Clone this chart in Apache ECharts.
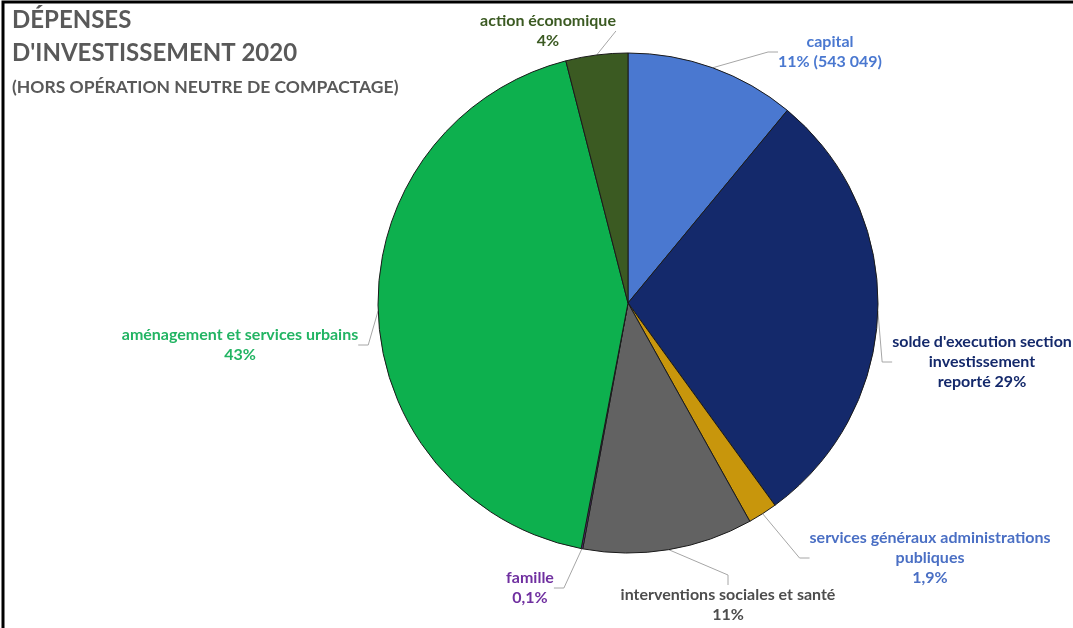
<!DOCTYPE html>
<html>
<head>
<meta charset="utf-8">
<script src="https://cdn.jsdelivr.net/npm/echarts@6/dist/echarts.min.js"></script>
<style>
  html, body { margin: 0; padding: 0; background: #fff; }
  #chart { width: 1073px; height: 628px; }
</style>
</head>
<body>
<div id="chart"></div>
<script>
// data, clockwise from 12 o'clock
const categories = [
    'capital',
    "solde d'execution section\ninvestissement\nreporté",
    'services généraux administrations\npubliques',
    'interventions sociales et santé',
    'famille',
    'aménagement et services urbains',
    'action économique',
];
const values = [11, 29, 1.9, 11, 0.1, 43, 4];
const valueLabels = ['11% (543 049)', '29%', '1,9%', '11%', '0,1%', '43%', '4%'];

const sliceColors = ['#4a78d0', '#14296b', '#c8960c', '#626262', '#7030a0', '#0db04e', '#3b5a22'];
const textColors = ['#4a78d0', '#14296b', '#4a6fc4', '#4d4d4d', '#7030a0', '#22b463', '#3b5a22'];

// where each label block sits (centre of the text)
const labelPos = [
    [830, 52], [982, 362], [930, 558], [728, 605], [530, 588], [240, 345], [548, 31],
];

const chart = echarts.init(document.getElementById('chart'));

chart.setOption({
    animation: false,
    textStyle: { fontFamily: 'Lato' },
    graphic: [
        {
            type: 'rect',
            shape: { x: 3, y: 2, width: 1075, height: 640 },
            style: { fill: 'none', stroke: '#000', lineWidth: 3 },
        },
        {
            type: 'text', left: 12, top: 8,
            style: { text: 'DÉPENSES', fontSize: 24, fontWeight: 'bold', fill: '#595959', fontFamily: 'Lato' },
        },
        {
            type: 'text', left: 12, top: 41,
            style: { text: "D'INVESTISSEMENT 2020", fontSize: 24, fontWeight: 'bold', fill: '#595959', fontFamily: 'Lato' },
        },
        {
            type: 'text', left: 12, top: 78,
            style: { text: '(HORS OPÉRATION NEUTRE DE COMPACTAGE)', fontSize: 17.5, fontWeight: 'bold', fill: '#595959', fontFamily: 'Lato' },
        },
    ],
    series: [
        {
            type: 'pie',
            center: [628, 303],
            radius: 250,
            startAngle: 90,
            clockwise: true,
            avoidLabelOverlap: false,
            itemStyle: { borderColor: '#1a1a1a', borderWidth: 1 },
            label: {
                show: true,
                fontSize: 16,
                fontWeight: 'bold',
                lineHeight: 20,
                align: 'center',
                fontFamily: 'Lato',
            },
            labelLine: {
                show: true,
                length: 12,
                length2: 10,
                lineStyle: { color: '#a6a6a6', width: 1 },
            },
            labelLayout: function (params) {
                const p = labelPos[params.dataIndex];
                return { x: p[0], y: p[1], align: 'center', verticalAlign: 'middle' };
            },
            data: categories.map(function (name, i) {
                const text = i === 1 ? name + ' ' + valueLabels[i] : name + '\n' + valueLabels[i];
                return {
                    name: name,
                    value: values[i],
                    itemStyle: { color: sliceColors[i] },
                    label: { formatter: text, color: textColors[i] },
                };
            }),
        },
    ],
});
</script>
</body>
</html>
